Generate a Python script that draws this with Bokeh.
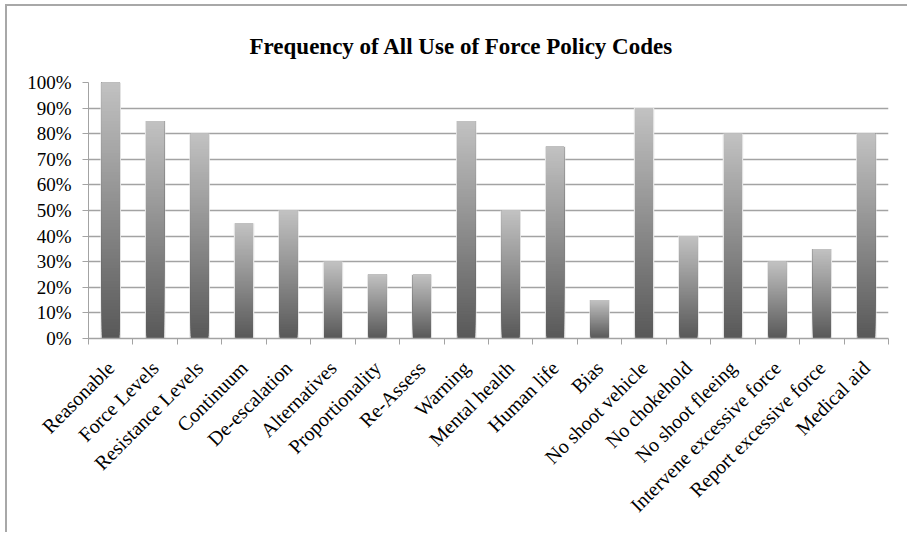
import math
import numpy as np
from bokeh.plotting import figure
from bokeh.models import Range1d, FixedTicker, LinearAxis, PrintfTickFormatter
from bokeh.embed import file_html
from bokeh.resources import INLINE

title_text = "Frequency of All Use of Force Policy Codes"
categories = [
    "Reasonable", "Force Levels", "Resistance Levels", "Continuum",
    "De-escalation", "Alternatives", "Proportionality", "Re-Assess",
    "Warning", "Mental health", "Human life", "Bias",
    "No shoot vehicle", "No chokehold", "No shoot fleeing",
    "Intervene excessive force", "Report excessive force", "Medical aid",
]
values = [100, 85, 80, 45, 50, 30, 25, 25, 85, 50, 75, 15, 90, 40, 80, 30, 35, 80]
y_ticks = [0, 10, 20, 30, 40, 50, 60, 70, 80, 90, 100]

FONT = "Liberation Serif"
GRID = "#a3a3a3"
n = len(categories)
centers = np.arange(n) + 0.5

p = figure(width=902, height=528, output_backend="svg", toolbar_location=None,
           x_range=Range1d(0, n), y_range=Range1d(0, 100),
           x_axis_location=None,
           min_border_left=81, min_border_right=21, min_border_top=76, min_border_bottom=196,
           title=title_text)
p.styles = {"margin-left": "5px", "margin-top": "4px",
            "border-left": "2px solid #a8a8a8", "border-top": "2px solid #a8a8a8"}
p.outline_line_color = None
p.background_fill_color = "white"
p.border_fill_color = "white"

p.title.text_font = FONT
p.title.text_font_size = "23px"
p.title.text_font_style = "bold"
p.title.text_color = "black"
p.title.align = "left"
p.title.offset = 161
p.title.standoff = 48

# y axis
yt = FixedTicker(ticks=y_ticks)
p.yaxis.ticker = yt
p.ygrid.ticker = yt
p.yaxis.formatter = PrintfTickFormatter(format="%d%%")
p.yaxis.axis_line_color = GRID
p.yaxis.major_tick_line_color = GRID
p.yaxis.major_tick_out = 6
p.yaxis.major_tick_in = 0
p.yaxis.minor_tick_line_color = None
p.yaxis.major_label_standoff = 11
p.yaxis.major_label_text_font = FONT
p.yaxis.major_label_text_font_size = "19px"
p.yaxis.major_label_text_color = "black"
p.ygrid.grid_line_color = GRID
p.ygrid.grid_line_width = 1.5
for g in p.xgrid:
    g.visible = False

# x axis with ticks at category boundaries
xaxis = LinearAxis(
    ticker=FixedTicker(ticks=[float(c) for c in centers], minor_ticks=list(range(n + 1))),
    major_label_overrides={float(c): cat for c, cat in zip(centers, categories)},
    major_tick_line_color=None, major_tick_out=6, major_tick_in=0,
    minor_tick_line_color=GRID, minor_tick_out=6, minor_tick_in=0,
    axis_line_color=GRID, axis_line_width=1.5,
    major_label_orientation=math.pi / 4,
    major_label_standoff=20,
    major_label_text_font=FONT, major_label_text_font_size="20px",
    major_label_text_color="black",
)
p.add_layout(xaxis, "below")

# soft shadow behind bars
p.vbar(x=centers, top=values, width=0.46, fill_color="#e2e2e2", line_color=None)

# gradient bars: layered slices, each from its start up to the bar's own top
N = 80
dark, light = 88, 194
xs, bottoms, tops, colors = [], [], [], []
for c, v in zip(centers, values):
    for k in range(N):
        t = (k + 0.5) / N
        g = int(round(dark + (light - dark) * t))
        xs.append(c)
        bottoms.append(v * k / N)
        tops.append(v)
        colors.append(f"#{g:02x}{g:02x}{g:02x}")
p.vbar(x=xs, bottom=bottoms, top=tops, width=0.4, fill_color=colors, line_color=None)

open("out.html", "w").write(file_html(p, INLINE))
